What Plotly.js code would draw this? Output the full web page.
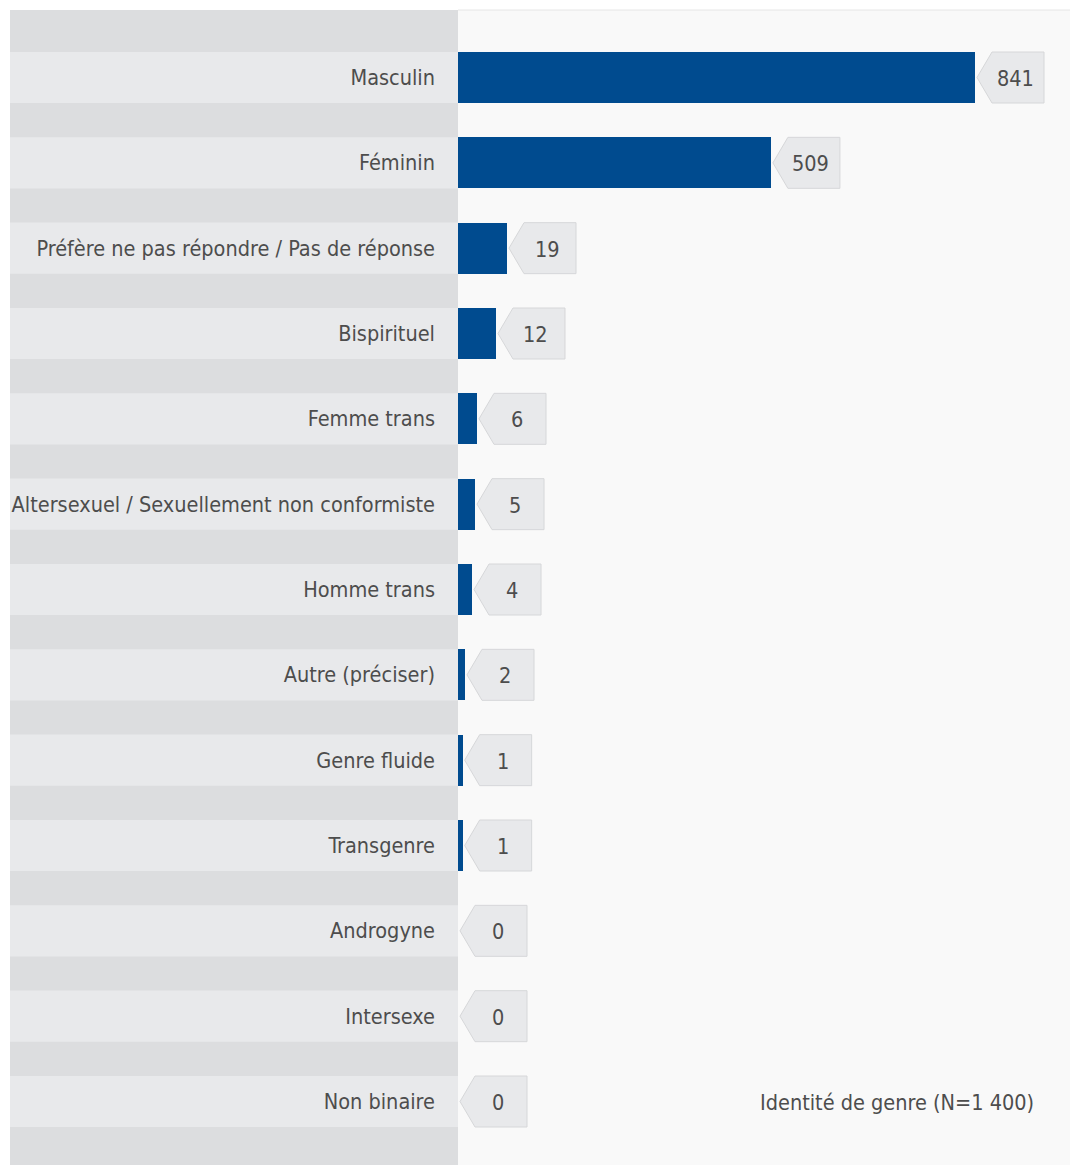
<!DOCTYPE html>
<html><head><meta charset="utf-8">
<script src="https://cdn.plot.ly/plotly-3.0.1.min.js"></script>
<style>html,body{margin:0;padding:0;background:#fff}</style>
</head><body>
<div id="chart" style="width:1070px;height:1165px"></div>
<script>
// Data
var categories = ["Masculin","Féminin","Préfère ne pas répondre / Pas de réponse","Bispirituel","Femme trans","Altersexuel / Sexuellement non conformiste","Homme trans","Autre (préciser)","Genre fluide","Transgenre","Androgyne","Intersexe","Non binaire"];
var counts = [841, 509, 19, 12, 6, 5, 4, 2, 1, 1, 0, 0, 0];
// drawn bar lengths (same axis units as the counts)
var barLength = [841, 509, 79.7, 61.8, 30.9, 27.7, 22.8, 11.4, 7.6, 7.6, 0, 0, 0];
var chartTitle = "Identité de genre (N=1 400)";

var FONT = "DejaVu Sans Condensed";
var TXT = "#4d4d4d";
var W = 1070, H = 1165, L = 458, T = 10;
var plotW = W - L;
var leftEdge = -(L - 10) / plotW;

var shapes = [];
// dark left panel
shapes.push({type:'rect', xref:'paper', yref:'paper', x0:leftEdge, x1:0, y0:0, y1:1, fillcolor:'#dcdddf', line:{width:0}, layer:'below'});
// top line
shapes.push({type:'line', xref:'paper', yref:'paper', x0:0, x1:1, y0:1, y1:1, line:{color:'#e6e6e6', width:1}});
categories.forEach(function(c, i){
  shapes.push({type:'rect', xref:'paper', yref:'y', x0:leftEdge, x1:0, y0:i-0.3, y1:i+0.3, fillcolor:'#e8e9eb', line:{width:0}, layer:'below'});
  shapes.push({type:'path', xref:'x', yref:'y', xsizemode:'pixel', ysizemode:'pixel',
    xanchor: barLength[i], yanchor: i,
    path:'M2,0L17,25.5L69,25.5L69,-25.5L17,-25.5Z',
    fillcolor:'#e8e9eb', line:{color:'#d6d7d9', width:1}, layer:'above'});
});

var annotations = categories.map(function(c, i){
  return {x: barLength[i], y: i, xref:'x', yref:'y', text: String(counts[i]), showarrow:false,
    xanchor:'center', yanchor:'middle', xshift:40, yshift:-1, font:{family:FONT, size:21.5, color:TXT}};
});
annotations.push({xref:'paper', yref:'y', x:(1036 - L)/plotW, y:categories.length-1, text:chartTitle,
  showarrow:false, xanchor:'right', yanchor:'middle', yshift:-1, font:{family:FONT, size:21.5, color:TXT}});

var trace = {
  type:'bar', orientation:'h',
  y: categories.map(function(c,i){return i;}),
  x: barLength,
  width: 0.6,
  marker:{color:'#004b8f', line:{width:0}},
  hoverinfo:'skip'
};

var layout = {
  width: W, height: H,
  margin:{l:L, r:0, t:T, b:0, pad:0},
  paper_bgcolor:'#ffffff', plot_bgcolor:'#f9f9f9',
  showlegend:false,
  xaxis:{range:[0, plotW/ (517/841)], visible:false, fixedrange:true},
  yaxis:{range:[12.744, -0.791], tickmode:'array', tickvals: categories.map(function(c,i){return i;}), ticktext: categories,
    showgrid:false, zeroline:false, showline:false, ticks:'', ticklabelstandoff:22,
    tickfont:{family:FONT, size:21.5, color:TXT}, fixedrange:true},
  shapes: shapes,
  annotations: annotations,
  bargap: 0
};

Plotly.newPlot('chart', [trace], layout, {displayModeBar:false, staticPlot:true});
</script></body></html>
